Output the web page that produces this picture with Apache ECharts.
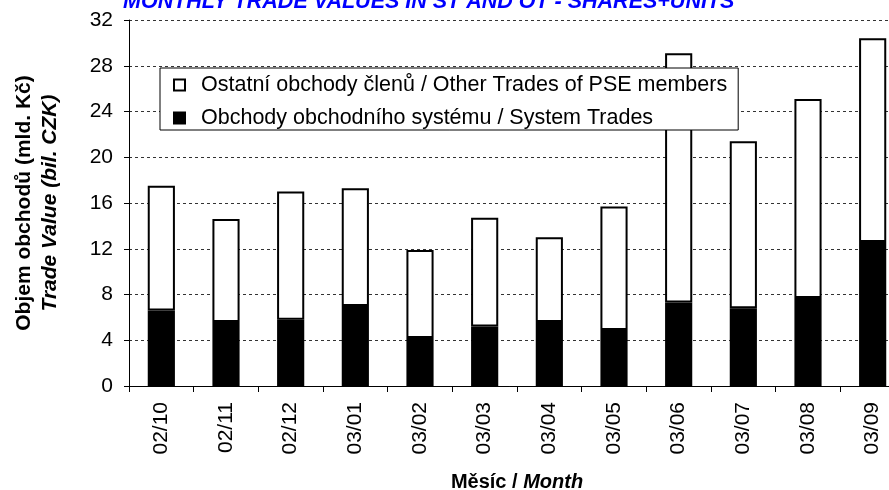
<!DOCTYPE html>
<html>
<head>
<meta charset="utf-8">
<script src="https://cdn.jsdelivr.net/npm/echarts@6/dist/echarts.min.js"></script>
<style>
  html, body { margin: 0; padding: 0; background: #fff; }
  #chart { width: 889px; height: 490px; }
</style>
</head>
<body>
<div id="chart"></div>
<script>
// měsíce
const months = ['02/10', '02/11', '02/12', '03/01', '03/02', '03/03', '03/04', '03/05', '03/06', '03/07', '03/08', '03/09'];
// obchody obchodního systému (mld. Kč)
const systemTrades = [6.6, 5.6, 5.8, 7.0, 4.2, 5.2, 5.6, 4.9, 7.3, 6.8, 7.7, 12.6];
// ostatní obchody členů (mld. Kč)
const otherTrades = [10.9, 9.0, 11.2, 10.3, 7.7, 9.5, 7.4, 10.8, 21.8, 14.6, 17.4, 17.8];
const yTicks = { min: 0, max: 32, interval: 4 };

const FONT = "'Liberation Sans', Arial, sans-serif";

function initChart() {
    const chart = echarts.init(document.getElementById('chart'));

    const option = {
        backgroundColor: '#fff',
        animation: false,
        textStyle: { fontFamily: FONT, color: '#000' },
        title: {
            text: 'MONTHLY TRADE VALUES IN ST AND OT - SHARES+UNITS',
            left: 118,
            top: -14,
            textStyle: {
                color: '#0000ff',
                fontSize: 21.5,
                fontWeight: 'bold',
                fontStyle: 'italic',
                fontFamily: FONT
            }
        },
        legend: {
            data: ['Ostatní obchody členů / Other Trades of PSE members', 'Obchody obchodního systému / System Trades'],
            orient: 'vertical',
            left: 160,
            top: 68,
            backgroundColor: '#fff',
            borderColor: '#000',
            borderWidth: 1,
            borderRadius: 0,
            padding: [6, 11, 1, 13],
            itemGap: 11,
            itemWidth: 11,
            itemHeight: 11,
            icon: 'rect',
            textStyle: { fontSize: 21.5, fontFamily: FONT, color: '#000', padding: [0, 0, 0, 11] }
        },
        grid: { left: 129, top: 20, width: 776, height: 366, outerBoundsMode: 'none', containLabel: false },
        xAxis: {
            type: 'category',
            data: months,
            name: '{b|Měsíc / }{bi|Month}',
            nameLocation: 'middle',
            nameGap: 86,
            nameTextStyle: {
                rich: {
                    b: { fontSize: 20, fontWeight: 'bold', fontFamily: FONT, color: '#000' },
                    bi: { fontSize: 20, fontWeight: 'bold', fontStyle: 'italic', fontFamily: FONT, color: '#000' }
                }
            },
            axisLine: { lineStyle: { color: '#000', width: 1 } },
            axisTick: { show: true, length: 6, lineStyle: { color: '#000' } },
            axisLabel: { rotate: 90, fontSize: 21, margin: 16, color: '#000', fontFamily: FONT }
        },
        yAxis: {
            type: 'value',
            min: yTicks.min,
            max: yTicks.max,
            interval: yTicks.interval,
            name: '{b|Objem obchodů (mld. Kč)}\n{bi|Trade Value (bil. CZK)}',
            nameLocation: 'middle',
            nameRotate: 90,
            nameGap: 66,
            nameTextStyle: {
                lineHeight: 26,
                rich: {
                    b: { fontSize: 21, fontWeight: 'bold', fontFamily: FONT, color: '#000', lineHeight: 26 },
                    bi: { fontSize: 21, fontWeight: 'bold', fontStyle: 'italic', fontFamily: FONT, color: '#000', lineHeight: 26 }
                }
            },
            axisLine: { show: true, lineStyle: { color: '#000', width: 1 } },
            axisTick: { show: true, length: 5, lineStyle: { color: '#000' } },
            axisLabel: { fontSize: 21, margin: 16, color: '#000', fontFamily: FONT },
            splitLine: { show: true, lineStyle: { color: '#333', type: [3, 3], width: 1 } }
        },
        series: [
            {
                name: 'Obchody obchodního systému / System Trades',
                type: 'bar',
                stack: 'total',
                barWidth: '42%',
                data: systemTrades,
                itemStyle: { color: '#000', borderColor: '#000', borderWidth: 2 }
            },
            {
                name: 'Ostatní obchody členů / Other Trades of PSE members',
                type: 'bar',
                stack: 'total',
                barWidth: '42%',
                data: otherTrades,
                itemStyle: { color: '#fff', borderColor: '#000', borderWidth: 2 }
            }
        ]
    };

    chart.setOption(option);
}

document.addEventListener('DOMContentLoaded', initChart);
</script>
</body>
</html>
